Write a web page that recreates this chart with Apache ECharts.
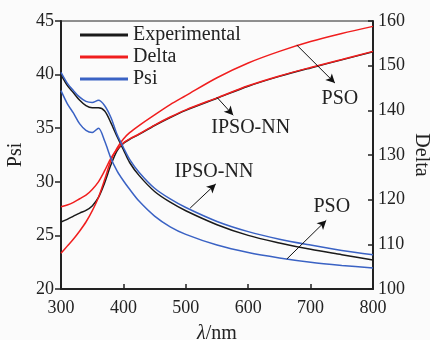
<!DOCTYPE html>
<html>
<head>
<meta charset="utf-8">
<script src="https://cdn.jsdelivr.net/npm/echarts@6/dist/echarts.min.js"></script>
<style>
  html, body { margin: 0; padding: 0; background: #fbfbfb; }
  #chart { width: 430px; height: 340px; }
</style>
</head>
<body>
<div id="chart"></div>
<script>
// wavelength grid (nm)
const lambda = [300, 310, 320, 330, 340, 350, 360, 370, 380, 390, 400, 410, 425, 450, 475, 500, 550, 600, 650, 700, 750, 800];

// Psi (left axis)
const psiExperimental = [40.0, 39.0, 38.3, 37.6, 37.1, 36.9, 36.9, 36.6, 35.5, 34.2, 33.0, 31.8, 30.6, 29.1, 28.1, 27.3, 26.0, 25.0, 24.3, 23.7, 23.2, 22.7];
const psiIpsoNN = [40.2, 39.2, 38.5, 37.9, 37.5, 37.4, 37.6, 37.1, 36.0, 34.4, 33.2, 32.1, 30.9, 29.4, 28.4, 27.6, 26.3, 25.35, 24.65, 24.1, 23.6, 23.2];
const psiPso = [38.5, 37.3, 36.4, 35.4, 34.8, 34.6, 35.0, 33.8, 32.2, 31.0, 30.1, 29.3, 28.2, 26.8, 25.8, 25.1, 24.1, 23.4, 22.9, 22.5, 22.2, 21.95];

// Delta (right axis)
const deltaExperimental = [115.0, 115.6, 116.3, 117.0, 117.6, 118.6, 120.5, 123.8, 127.8, 131.0, 132.6, 133.5, 134.6, 136.6, 138.4, 140.0, 142.7, 145.4, 147.6, 149.5, 151.3, 153.1];
const deltaIpsoNN = [118.4, 118.8, 119.4, 120.2, 121.0, 122.3, 124.0, 126.5, 129.3, 131.3, 132.7, 133.6, 134.7, 136.7, 138.5, 140.1, 142.8, 145.5, 147.7, 149.6, 151.4, 153.2];
const deltaPso = [108.0, 109.6, 111.2, 113.0, 115.0, 117.5, 120.5, 124.5, 128.8, 131.6, 133.6, 135.0, 136.6, 139.0, 141.3, 143.3, 147.3, 150.6, 153.2, 155.4, 157.2, 158.8];

const FONT = "'Liberation Serif', 'Times New Roman', serif";
const BLACK = '#1a1a1a';
const RED = '#f01e1e';
const BLUE = '#3a62c4';

const pairs = (ys) => lambda.map((x, i) => [x, ys[i]]);

const arrow = (from, to) => [{ coord: from }, { coord: to }];
const note = (text, at) => ({ name: text, coord: at });

const markLineStyle = {
  silent: true,
  animation: false,
  symbol: ['none', 'arrow'],
  symbolSize: [7, 9],
  lineStyle: { color: '#111', width: 1, type: 'solid' },
  label: { show: false },
};

const markPointStyle = {
  silent: true,
  animation: false,
  symbol: 'circle',
  symbolSize: 1,
  itemStyle: { color: 'rgba(0,0,0,0)' },
  label: {
    show: true,
    position: 'inside',
    formatter: '{b}',
    color: '#222',
    fontFamily: FONT,
    fontSize: 20,
  },
};

const line = (name, color, data, yAxisIndex, extra) =>
  Object.assign(
    {
      name,
      type: 'line',
      yAxisIndex,
      data,
      smooth: 0.3,
      symbol: 'none',
      lineStyle: { color, width: 1.5 },
      itemStyle: { color },
      animation: false,
    },
    extra || {},
  );

const option = {
  backgroundColor: '#fbfbfb',
  grid: {
    left: 61,
    right: 57,
    top: 21,
    bottom: 51,
    outerBoundsMode: 'none',
    containLabel: false,
    show: true,
    borderColor: '#222',
    borderWidth: 1,
  },
  legend: {
    data: ['Experimental', 'Delta', 'Psi'],
    orient: 'vertical',
    left: 75,
    top: 20,
    icon: 'rect',
    itemWidth: 48,
    itemHeight: 3,
    itemGap: 2,
    textStyle: { fontFamily: FONT, fontSize: 20, color: '#222', lineHeight: 20 },
  },
  xAxis: {
    type: 'value',
    min: 300,
    max: 800,
    interval: 100,
    name: '{i|λ}/nm',
    nameLocation: 'middle',
    nameGap: 35,
    nameMoveOverlap: false,
    nameTextStyle: {
      fontFamily: FONT,
      fontSize: 20,
      color: '#222',
      rich: { i: { fontStyle: 'italic', fontFamily: FONT, fontSize: 20, color: '#222' } },
    },
    axisLine: { lineStyle: { color: '#222', width: 2 } },
    axisTick: { inside: true, length: 5, lineStyle: { color: '#222', width: 1.5 } },
    axisLabel: { fontFamily: FONT, fontSize: 18, color: '#222', margin: 10 },
    splitLine: { show: false },
  },
  yAxis: [
    {
      type: 'value',
      min: 20,
      max: 45,
      interval: 5,
      name: 'Psi',
      nameLocation: 'middle',
      nameGap: 35,
      nameRotate: 90,
      nameMoveOverlap: false,
      nameTextStyle: { fontFamily: FONT, fontSize: 20, color: '#222' },
      axisLine: { show: true, lineStyle: { color: '#222', width: 2 } },
      axisTick: { show: true, inside: false, length: 6, lineStyle: { color: '#222', width: 1.5 } },
      axisLabel: { fontFamily: FONT, fontSize: 18, color: '#222', margin: 7 },
      splitLine: { show: false },
    },
    {
      type: 'value',
      min: 100,
      max: 160,
      interval: 10,
      position: 'right',
      name: 'Delta',
      nameLocation: 'middle',
      nameGap: 38,
      nameRotate: -90,
      nameMoveOverlap: false,
      nameTextStyle: { fontFamily: FONT, fontSize: 20, color: '#222' },
      axisLine: { show: true, lineStyle: { color: '#222', width: 2 } },
      axisTick: { show: true, inside: true, length: 5, lineStyle: { color: '#222', width: 1.5 } },
      axisLabel: { fontFamily: FONT, fontSize: 18, color: '#222', margin: 5 },
      splitLine: { show: false },
    },
  ],
  series: [
    // experimental curves first so the fitted lines sit on top of them
    line('Experimental', BLACK, pairs(deltaExperimental), 1),
    line('Experimental', BLACK, pairs(psiExperimental), 0),
    line('Delta', RED, pairs(deltaPso), 1, {
      markLine: Object.assign({}, markLineStyle, { data: [arrow([678, 154.6], [739, 146.1])] }),
      markPoint: Object.assign({}, markPointStyle, {
        data: [note('PSO', [747, 142.7]), note('IPSO-NN', [604, 136])],
      }),
    }),
    line('Delta', RED, pairs(deltaIpsoNN), 1, {
      markLine: Object.assign({}, markLineStyle, { data: [arrow([550, 142.9], [576, 138.9])] }),
    }),
    line('Psi', BLUE, pairs(psiPso), 0, {
      markLine: Object.assign({}, markLineStyle, { data: [arrow([662, 22.8], [725, 26.4])] }),
      markPoint: Object.assign({}, markPointStyle, {
        data: [note('PSO', [734, 27.7]), note('IPSO-NN', [545, 30.9])],
      }),
    }),
    line('Psi', BLUE, pairs(psiIpsoNN), 0, {
      markLine: Object.assign({}, markLineStyle, { data: [arrow([507, 27.55], [548, 29.8])] }),
    }),
  ],
};

const chart = echarts.init(document.getElementById('chart'));
chart.setOption(option);
</script>
</body>
</html>
